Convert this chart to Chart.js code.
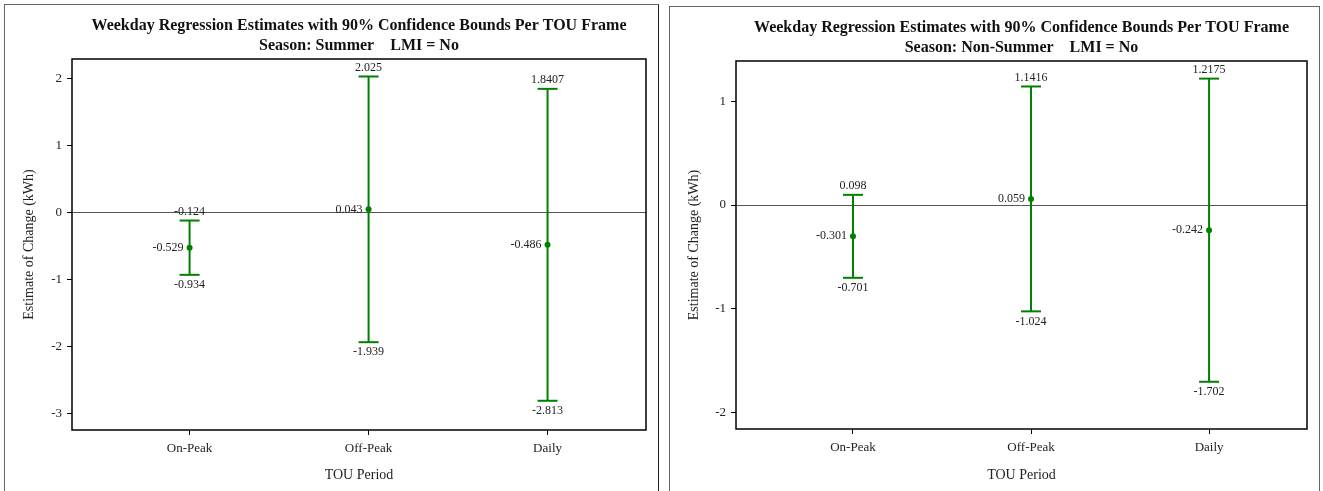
<!DOCTYPE html>
<html>
<head>
<meta charset="utf-8">
<script src="https://cdn.jsdelivr.net/npm/chart.js@4.4.1/dist/chart.umd.min.js"></script>
<style>
  body { margin: 0; background: #fff; width: 1323px; height: 491px; overflow: hidden; position: relative; }
  .panel { position: absolute; border: 1px solid #666; border-bottom: none; background: #fff; }
  .panel canvas { display: block; }
</style>
</head>
<body>
<div class="panel" id="p1" style="left:4px; top:4px; width:653px; height:487px; border-right-color:#222;">
  <canvas id="c1" width="653" height="487"></canvas>
</div>
<div class="panel" id="p2" style="left:669px; top:6px; width:649px; height:485px;">
  <canvas id="c2" width="649" height="485"></canvas>
</div>
<script>
// ==================== DATOS ====================
const categorias = ['On-Peak', 'Off-Peak', 'Daily'];

const estVerano = [-0.529, 0.043, -0.486];
const infVerano = [-0.934, -1.939, -2.813];
const supVerano = [-0.124, 2.025, 1.8407];

const estNoVerano = [-0.301, 0.059, -0.242];
const infNoVerano = [-0.701, -1.024, -1.702];
const supNoVerano = [0.098, 1.1416, 1.2175];

const ticksVerano = [-3, -2, -1, 0, 1, 2];
const ticksNoVerano = [-2, -1, 0, 1];

const titulo = 'Weekday Regression Estimates with 90% Confidence Bounds Per TOU Frame';
const VERDE = '#008000';
const FUENTE = "'Liberation Serif', 'Times New Roman', serif";

// ==================== PLUGINS ====================
const marcoPlugin = {
    id: 'marco',
    afterDraw(chart) {
        const a = chart.chartArea;
        const ctx = chart.ctx;
        ctx.save();
        ctx.strokeStyle = '#000';
        ctx.lineWidth = 1.5;
        ctx.strokeRect(a.left, a.top, a.right - a.left, a.bottom - a.top);
        ctx.restore();
    }
};

const etiquetasPlugin = {
    id: 'etiquetas',
    afterDatasetsDraw(chart, args, opts) {
        const ctx = chart.ctx;
        const x = chart.scales.x;
        const y = chart.scales.y;
        ctx.save();
        ctx.font = '12px ' + FUENTE;
        ctx.fillStyle = '#222';
        for (let i = 0; i < opts.est.length; i++) {
            const px = x.getPixelForValue(i + 1);
            // limite superior
            ctx.textAlign = 'center';
            ctx.textBaseline = 'bottom';
            ctx.fillText(String(opts.sup[i]), px, y.getPixelForValue(opts.sup[i]) - 3);
            // limite inferior
            ctx.textBaseline = 'top';
            ctx.fillText(String(opts.inf[i]), px, y.getPixelForValue(opts.inf[i]) + 4);
            // estimado
            ctx.textAlign = 'right';
            ctx.textBaseline = 'middle';
            ctx.fillText(String(opts.est[i]), px - 6, y.getPixelForValue(opts.est[i]));
        }
        ctx.restore();
    }
};

// ==================== GRAFICOS ====================
function crearGrafico(idCanvas, temporada, est, inf, sup, yMin, yMax, yTicks, anchoEjeY, altoEjeX, padDer) {
    const datasets = [];
    for (let i = 0; i < categorias.length; i++) {
        datasets.push({
            data: [{ x: i + 1, y: inf[i] }, { x: i + 1, y: sup[i] }],
            showLine: true,
            borderColor: VERDE,
            borderWidth: 2,
            pointStyle: 'line',
            pointRadius: 10,
            pointBorderWidth: 2,
            pointBorderColor: VERDE
        });
    }
    datasets.push({
        data: est.map((v, i) => ({ x: i + 1, y: v })),
        showLine: false,
        pointStyle: 'circle',
        pointRadius: 3,
        pointBackgroundColor: VERDE,
        pointBorderColor: VERDE,
        pointBorderWidth: 0
    });

    return new Chart(document.getElementById(idCanvas), {
        type: 'scatter',
        data: { datasets: datasets },
        options: {
            responsive: false,
            animation: false,
            devicePixelRatio: 1,
            layout: { padding: { left: 0, right: padDer, top: 0, bottom: 0 } },
            plugins: {
                legend: { display: false },
                tooltip: { enabled: false },
                title: {
                    display: true,
                    text: titulo,
                    fullSize: false,
                    color: '#111',
                    font: { family: FUENTE, size: 16, weight: 'bold', lineHeight: 1.2 },
                    padding: { top: 11.5, bottom: 0.5 }
                },
                subtitle: {
                    display: true,
                    text: 'Season: ' + temporada + '    LMI = No',
                    fullSize: false,
                    color: '#111',
                    font: { family: FUENTE, size: 16, weight: 'bold', lineHeight: 1.2 },
                    padding: { top: 0, bottom: 3.6 }
                },
                etiquetas: { est: est, inf: inf, sup: sup }
            },
            scales: {
                x: {
                    type: 'linear',
                    min: 0.343,
                    max: 3.55,
                    afterBuildTicks: (axis) => { axis.ticks = categorias.map((c, i) => ({ value: i + 1 })); },
                    afterFit: (scale) => { scale.height = altoEjeX; },
                    border: { display: false },
                    grid: { drawOnChartArea: false, color: '#000', tickColor: '#000', tickLength: 5 },
                    ticks: {
                        color: '#222',
                        padding: 6,
                        maxRotation: 0,
                        font: { family: FUENTE, size: 13 },
                        callback: (v) => categorias[v - 1]
                    },
                    title: {
                        display: true,
                        text: 'TOU Period',
                        color: '#222',
                        font: { family: FUENTE, size: 14 },
                        padding: { top: 0, bottom: 8 }
                    }
                },
                y: {
                    min: yMin,
                    max: yMax,
                    afterBuildTicks: (axis) => { axis.ticks = yTicks.map(v => ({ value: v })); },
                    afterFit: (scale) => { scale.width = anchoEjeY; },
                    border: { display: false },
                    grid: {
                        color: (c) => (c.tick && c.tick.value === 0) ? '#555' : 'rgba(0,0,0,0)',
                        tickColor: '#000',
                        tickLength: 5,
                        lineWidth: 1
                    },
                    ticks: {
                        color: '#222',
                        padding: 5,
                        font: { family: FUENTE, size: 13 },
                        callback: (v) => String(v)
                    },
                    title: {
                        display: true,
                        text: 'Estimate of Change (kWh)',
                        color: '#222',
                        font: { family: FUENTE, size: 14 },
                        padding: { top: 16, bottom: 0 }
                    }
                }
            }
        },
        plugins: [marcoPlugin, etiquetasPlugin]
    });
}

crearGrafico('c1', 'Summer', estVerano, infVerano, supVerano, -3.249, 2.286, ticksVerano, 67, 62, 11);
crearGrafico('c2', 'Non-Summer', estNoVerano, infNoVerano, supNoVerano, -2.157, 1.387, ticksNoVerano, 66, 63, 11);
</script>
</body>
</html>
